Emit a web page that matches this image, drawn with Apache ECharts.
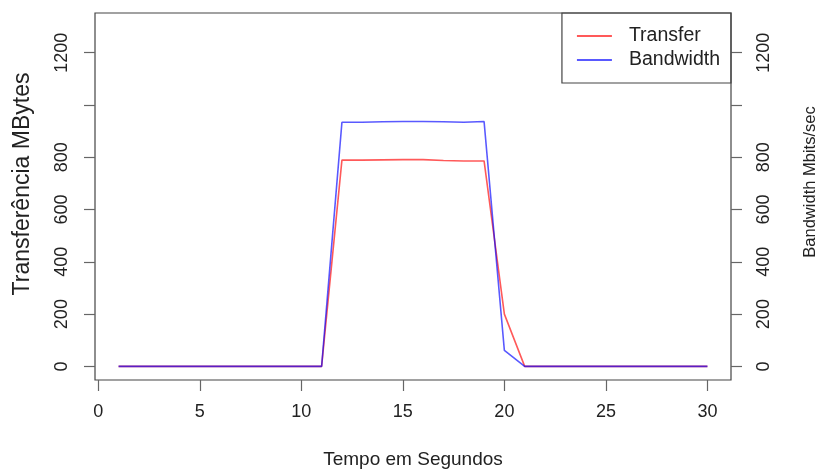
<!DOCTYPE html>
<html>
<head>
<meta charset="utf-8">
<script src="https://cdn.jsdelivr.net/npm/echarts@6/dist/echarts.min.js"></script>
<style>
  html, body { margin: 0; padding: 0; background: #fff; }
  #chart { width: 820px; height: 472px; }
</style>
</head>
<body>
<div id="chart"></div>
<script>
// dados (iperf, 30 segundos)
let seconds = [1, 2, 3, 4, 5, 6, 7, 8, 9, 10, 11, 12, 13, 14, 15, 16, 17, 18, 19, 20, 21, 22, 23, 24, 25, 26, 27, 28, 29, 30]
let transfer = [0, 0, 0, 0, 0, 0, 0, 0, 0, 0, 0, 789, 789, 790, 791, 791, 788, 786, 786, 200, 0, 0, 0, 0, 0, 0, 0, 0, 0, 0]
let bandwidth = [0, 0, 0, 0, 0, 0, 0, 0, 0, 0, 0, 934, 934, 936, 937, 937, 936, 934, 937, 61, 0, 0, 0, 0, 0, 0, 0, 0, 0, 0]
let xTicks = [0, 5, 10, 15, 20, 25, 30]
let yTicks = [0, 200, 400, 600, 800, 1000, 1200]
let yLabels = [0, 200, 400, 600, 800, 1200]

let font = 'Liberation Sans'
let txt = '#222'
let lineCol = '#444'

let myChart = echarts.init(document.getElementById('chart'))

function pairs(ys) {
  return seconds.map((s, i) => [s, ys[i]])
}

function yAxisOf(pos) {
  return {
    type: 'value',
    position: pos,
    min: -52,
    max: 1352,
    splitLine: { show: false },
    axisLine: { show: false, onZero: false },
    axisTick: {
      show: true,
      inside: false,
      length: 11,
      customValues: yTicks,
      lineStyle: { color: '#666', width: 1.2 }
    },
    axisLabel: {
      customValues: yLabels,
      formatter: v => String(v),
      rotate: 90,
      margin: 24,
      color: txt,
      fontFamily: font,
      fontSize: 18
    }
  }
}

let options = {
  animation: false,
  grid: {
    left: 95,
    right: 89,
    top: 13,
    bottom: 92,
    show: true,
    borderColor: lineCol,
    borderWidth: 1.2,
    backgroundColor: 'transparent'
  },
  legend: {
    orient: 'vertical',
    right: 89,
    top: 13,
    padding: [13, 11, 13, 15],
    itemGap: 4,
    itemWidth: 35,
    itemHeight: 2,
    icon: 'rect',
    borderColor: lineCol,
    borderWidth: 1.2,
    borderRadius: 0,
    textStyle: { color: txt, fontFamily: font, fontSize: 19.5, padding: [0, 0, 0, 12] },
    data: ['Transfer', 'Bandwidth']
  },
  xAxis: {
    type: 'value',
    min: -0.16,
    max: 31.16,
    splitLine: { show: false },
    axisLine: { show: false, onZero: false },
    axisTick: {
      show: true,
      length: 11,
      customValues: xTicks,
      lineStyle: { color: '#666', width: 1.2 }
    },
    axisLabel: {
      customValues: xTicks,
      margin: 23,
      color: txt,
      fontFamily: font,
      fontSize: 18
    }
  },
  yAxis: [yAxisOf('left'), yAxisOf('right')],
  graphic: [
    {
      type: 'text',
      x: 23, y: 184,
      rotation: Math.PI / 2,
      style: {
        text: 'Transferência MBytes',
        fill: txt,
        font: '23px "Liberation Sans"',
        align: 'center',
        verticalAlign: 'middle'
      }
    },
    {
      type: 'text',
      x: 810, y: 182,
      rotation: Math.PI / 2,
      style: {
        text: 'Bandwidth Mbits/sec',
        fill: txt,
        font: '16.5px "Liberation Sans"',
        align: 'center',
        verticalAlign: 'middle'
      }
    },
    {
      type: 'text',
      x: 413, y: 460,
      style: {
        text: 'Tempo em Segundos',
        fill: txt,
        font: '19px "Liberation Sans"',
        align: 'center',
        verticalAlign: 'middle'
      }
    }
  ],
  series: [
    {
      name: 'Transfer',
      type: 'line',
      showSymbol: false,
      color: 'rgba(255,0,0,0.65)',
      lineStyle: { width: 1.6, color: 'rgba(255,0,0,0.65)' },
      data: pairs(transfer)
    },
    {
      name: 'Bandwidth',
      type: 'line',
      showSymbol: false,
      color: 'rgba(0,0,255,0.65)',
      lineStyle: { width: 1.6, color: 'rgba(0,0,255,0.65)' },
      data: pairs(bandwidth)
    }
  ]
}
myChart.setOption(options)
</script>
</body>
</html>
